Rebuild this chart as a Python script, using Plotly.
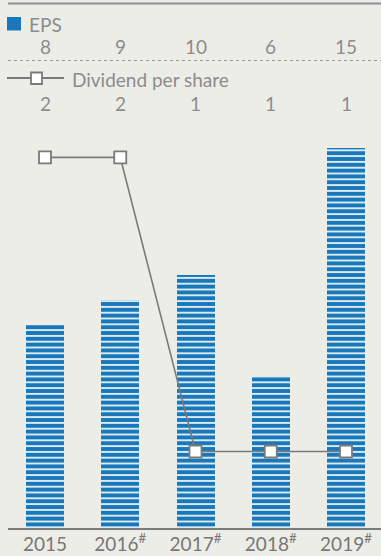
import plotly.graph_objects as go

# Data
years = ["2015", "2016<sup>#</sup>", "2017<sup>#</sup>", "2018<sup>#</sup>", "2019<sup>#</sup>"]
eps = [8, 9, 10, 6, 15]
dividend = [2, 2, 1, 1, 1]

# Styling
W, H = 381, 556
M_L, M_R, M_T, M_B = 8, 0, 130, 28
BG = "#ededE8"
BLUE = "#1878b9"
GREY = "#7a7a7a"
TEXT = "#8c8c8c"
FONT = "Lato"

plot_w = W - M_L - M_R
plot_h = H - M_T - M_B


def px_x(px):
    """Pixel x -> paper x."""
    return (px - M_L) / plot_w


def px_y(py):
    """Pixel y -> paper y."""
    return (H - M_B - py) / plot_h


xs = list(range(len(years)))

fig = go.Figure()

fig.add_trace(go.Bar(
    x=xs, y=eps, width=0.505, yaxis="y",
    marker=dict(
        color=BLUE, line=dict(width=0),
        pattern=dict(shape="-", fgcolor="white", bgcolor=BLUE,
                     size=5.8, solidity=0.28, fillmode="replace"),
    ),
    hoverinfo="skip", showlegend=False,
))

fig.add_trace(go.Scatter(
    x=xs, y=dividend, yaxis="y2", mode="lines+markers",
    line=dict(color=GREY, width=1.6),
    marker=dict(symbol="square", size=12, color="white",
                line=dict(color=GREY, width=1.8)),
    hoverinfo="skip", showlegend=False,
))

HFONT = dict(family=FONT, size=19, color=TEXT)

annotations = []
# Header: EPS legend and values
annotations.append(dict(xref="paper", yref="paper", x=px_x(27), y=px_y(24),
                        text="EPS", showarrow=False, xanchor="left", yanchor="middle",
                        font=HFONT))
for xi, v in zip(xs, eps):
    annotations.append(dict(xref="x", yref="paper", x=xi, y=px_y(47),
                            text=str(v), showarrow=False, xanchor="center", yanchor="middle",
                            font=HFONT))
# Header: dividend legend and values
annotations.append(dict(xref="paper", yref="paper", x=px_x(70), y=px_y(79),
                        text="Dividend per share", showarrow=False, xanchor="left", yanchor="middle",
                        font=HFONT))
for xi, v in zip(xs, dividend):
    annotations.append(dict(xref="x", yref="paper", x=xi, y=px_y(103),
                            text=str(v), showarrow=False, xanchor="center", yanchor="middle",
                            font=HFONT))

shapes = [
    # top rule
    dict(type="line", xref="paper", yref="paper", x0=0, x1=1, y0=px_y(3.5), y1=px_y(3.5),
         line=dict(color="#8c8c8c", width=2.2), layer="above"),
    # dotted separator
    dict(type="line", xref="paper", yref="paper", x0=0, x1=1, y0=px_y(60.5), y1=px_y(60.5),
         line=dict(color="#9a9a9a", width=1.2, dash="dot")),
    # EPS legend swatch
    dict(type="rect", xref="paper", yref="paper", x0=px_x(7), x1=px_x(21),
         y0=px_y(30.5), y1=px_y(17), fillcolor=BLUE, line=dict(width=0)),
    # dividend legend line + marker
    dict(type="line", xref="paper", yref="paper", x0=px_x(7), x1=px_x(64),
         y0=px_y(78), y1=px_y(78), line=dict(color=GREY, width=1.8)),
    dict(type="rect", xref="paper", yref="paper", x0=px_x(31), x1=px_x(42),
         y0=px_y(84), y1=px_y(72.5), fillcolor="white", line=dict(color=GREY, width=1.8)),
    # baseline
    dict(type="line", xref="paper", yref="paper", x0=0, x1=1, y0=px_y(529), y1=px_y(529),
         line=dict(color=GREY, width=2.2)),
]

fig.update_layout(
    width=W, height=H,
    margin=dict(l=M_L, r=M_R, t=M_T, b=M_B),
    paper_bgcolor=BG, plot_bgcolor=BG,
    xaxis=dict(
        range=[-0.4917, 4.465], tickmode="array", tickvals=xs, ticktext=years,
        showgrid=False, zeroline=False, showline=False, ticks="",
        tickfont=dict(family=FONT, size=19, color="#777777"),
        ticklabelstandoff=3,
        fixedrange=True,
    ),
    yaxis=dict(range=[0, 15.70], visible=False, fixedrange=True),
    yaxis2=dict(range=[0.74, 2.093], overlaying="y", visible=False, fixedrange=True),
    annotations=annotations,
    shapes=shapes,
    showlegend=False,
    bargap=0,
)

fig.write_html("out.html", config={"displayModeBar": False})
